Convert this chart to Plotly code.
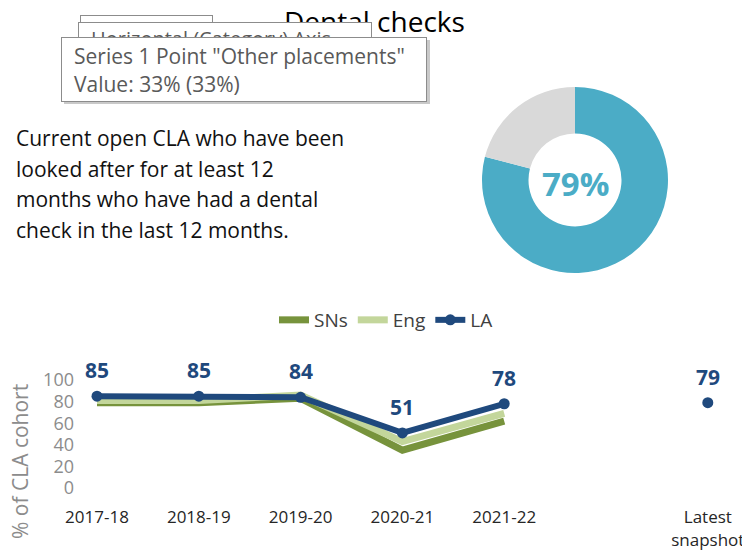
import plotly.graph_objects as go

# page body has an 8px margin; the figure is sized so it fits the window
OFF = 8
W, H = 742, 549

# ---- data ----
categories = ["2017-18", "2018-19", "2019-20", "2020-21", "2021-22", "", "Latest<br>snapshot"]
sns_values = [79, 79, 83, 35, 62, None, None]
eng_values = [81, 81, 86, 43, 69, None, None]
la_values = [85, 85, 84, 51, 78, None, 79]
donut_labels = ["Dental check", "Other placements"]
donut_values = [79, 21]
headline = "79%"
y_ticks = [0, 20, 40, 60, 80, 100]
description = ["Current open CLA who have been", "looked after for at least 12",
               "months who have had a dental", "check in the last 12 months."]

FONT = "Open Sans"

def px(x):
    return (x - OFF) / W

def py(y):
    return 1 - (y - OFF) / H

xpos = list(range(len(categories)))

fig = go.Figure()

fig.add_trace(go.Pie(
    labels=donut_labels, values=donut_values, hole=0.5, sort=False,
    direction="clockwise", rotation=0, textinfo="none",
    marker=dict(colors=["#4BACC6", "#D9D9D9"]),
    domain=dict(x=[px(482), px(668)], y=[py(273), py(87)]),
    showlegend=False, hoverinfo="skip"))

fig.add_trace(go.Scatter(x=xpos, y=sns_values, name="SNs", mode="lines",
                         line=dict(color="#77933C", width=7)))
fig.add_trace(go.Scatter(x=xpos, y=eng_values, name="Eng", mode="lines",
                         line=dict(color="#C3D69B", width=7)))
fig.add_trace(go.Scatter(x=xpos, y=la_values, name="LA", mode="lines+markers",
                         line=dict(color="#1F497D", width=6),
                         marker=dict(color="#1F497D", size=11), connectgaps=False))

ann = []
# title
ann.append(dict(text="Dental checks", x=px(374), y=py(21), xref="paper", yref="paper",
                showarrow=False, xanchor="center", yanchor="middle",
                font=dict(family=FONT, size=28, color="#000000")))

def box(left, top, w, h, bg="#FFFFFF", border="#8c8c8c", bw=1):
    return dict(text=" ", x=px(left), y=py(top), xref="paper", yref="paper",
                xanchor="left", yanchor="top", showarrow=False,
                width=w, height=h, bgcolor=bg, bordercolor=border,
                borderwidth=bw, borderpad=0)

ann.append(box(80, 15, 131, 30))
ann.append(box(78, 22, 292, 30))
ann.append(dict(text="Horizontal (Category) Axis", x=px(89), y=py(39), xref="paper", yref="paper",
                xanchor="left", yanchor="middle", showarrow=False,
                font=dict(family=FONT, size=20, color="#595959")))
ann.append(box(64, 40, 366, 64, bg="#c9c9c9", border="#c9c9c9", bw=0))
ann.append(box(61, 37, 364, 63))
ann.append(dict(text='Series 1 Point "Other placements"', x=px(72), y=py(56), xref="paper", yref="paper",
                xanchor="left", yanchor="middle", showarrow=False,
                font=dict(family=FONT, size=21, color="#595959")))
ann.append(dict(text="Value: 33% (33%)", x=px(72), y=py(84), xref="paper", yref="paper",
                xanchor="left", yanchor="middle", showarrow=False,
                font=dict(family=FONT, size=21, color="#595959")))

# description text
for i, line in enumerate(description):
    ann.append(dict(text=line, x=px(14), y=py(138 + i * 30.7), xref="paper", yref="paper",
                    xanchor="left", yanchor="middle", showarrow=False,
                    font=dict(family=FONT, size=21, color="#111111")))

# donut centre
ann.append(dict(text="<b>%s</b>" % headline, x=px(575), y=py(183), xref="paper", yref="paper",
                xanchor="center", yanchor="middle", showarrow=False,
                font=dict(family=FONT, size=33, color="#4BACC6")))

# y-axis title
ann.append(dict(text="% of CLA cohort", x=px(20), y=py(462), xref="paper", yref="paper",
                xanchor="center", yanchor="middle", showarrow=False, textangle=-90,
                font=dict(family=FONT, size=21, color="#8c8c8c")))

# data labels
for xi, v in zip(xpos, la_values):
    if v is None:
        continue
    ann.append(dict(text="<b>%d</b>" % v, x=xi, y=v, xref="x", yref="y",
                    yshift=26, showarrow=False, xanchor="center", yanchor="middle",
                    font=dict(family=FONT, size=21, color="#1F497D")))

unit = 101.8
first_px = 97
xmin = -0.5
xmax = (OFF + W - first_px) / unit
x0 = px(first_px - 0.5 * unit)

fig.update_layout(
    width=W, height=H,
    margin=dict(l=0, r=0, t=0, b=0),
    paper_bgcolor="white", plot_bgcolor="rgba(0,0,0,0)",
    font=dict(family=FONT),
    annotations=ann,
    showlegend=True,
    legend=dict(orientation="h", x=px(386), y=py(320), xanchor="center", yanchor="middle",
                font=dict(family=FONT, size=19, color="#404040"), bgcolor="rgba(0,0,0,0)",
                tracegroupgap=0, itemwidth=30),
    xaxis=dict(domain=[x0, 1], range=[xmin, xmax], tickmode="array", tickvals=xpos,
               ticktext=categories, showgrid=False, zeroline=False, showline=False,
               ticks="outside", ticklen=14, tickcolor="rgba(0,0,0,0)", automargin=False,
               tickfont=dict(family=FONT, size=17, color="#262626"), fixedrange=True),
    yaxis=dict(domain=[py(488), py(380)], range=[0, 100], tickvals=y_ticks,
               anchor="free", position=px(74), showgrid=False, zeroline=False,
               showline=False, ticks="", automargin=False,
               tickfont=dict(family=FONT, size=18, color="#8c8c8c"), fixedrange=True),
)

fig.write_html("out.html")
